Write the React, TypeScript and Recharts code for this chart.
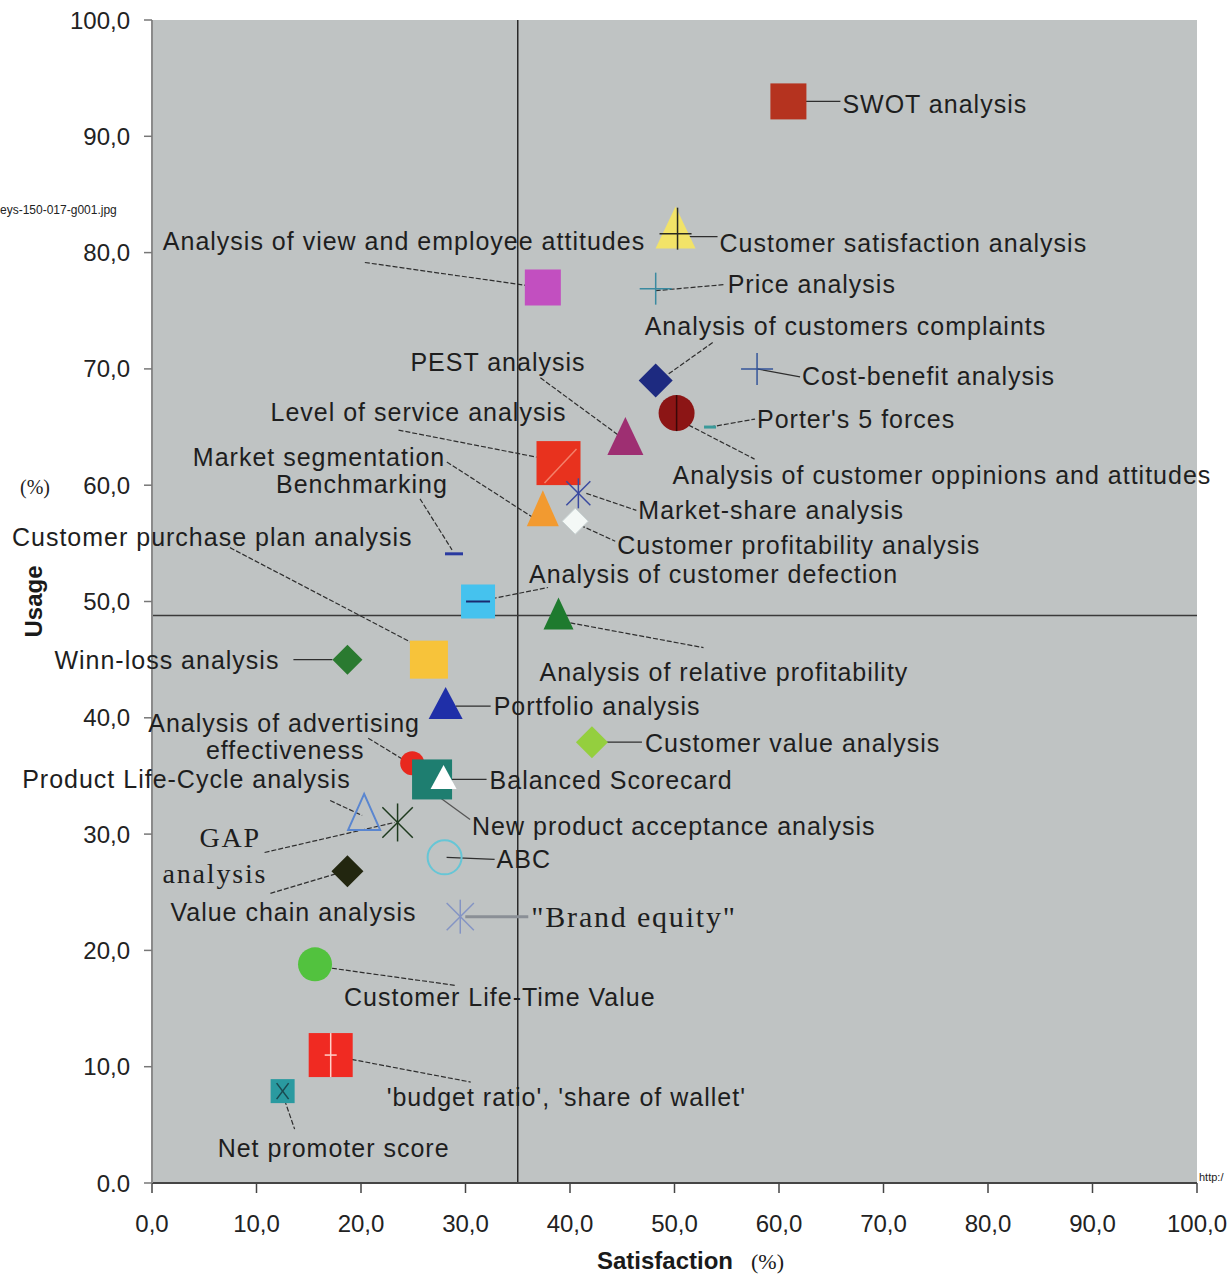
import React from "react";
import {
  ScatterChart,
  Scatter,
  XAxis,
  YAxis,
  CartesianGrid,
  ReferenceLine,
} from "recharts";

// ---- data ----
const TOOLS = [
  "SWOT analysis",
  "Customer satisfaction analysis",
  "Analysis of view and employee attitudes",
  "Price analysis",
  "Analysis of customers complaints",
  "Cost-benefit analysis",
  "Porter's 5 forces",
  "Analysis of customer oppinions and attitudes",
  "PEST analysis",
  "Level of service analysis",
  "Market segmentation",
  "Market-share analysis",
  "Customer profitability analysis",
  "Benchmarking",
  "Analysis of customer defection",
  "Analysis of relative profitability",
  "Winn-loss analysis",
  "Customer purchase plan analysis",
  "Portfolio analysis",
  "Customer value analysis",
  "Analysis of advertising effectiveness",
  "New product acceptance analysis",
  "Balanced Scorecard",
  "Product Life-Cycle analysis",
  "GAP analysis",
  "ABC",
  "Value chain analysis",
  '"Brand equity"',
  "Customer Life-Time Value",
  "'budget ratio', 'share of wallet'",
  "Net promoter score",
];

const SATISFACTION = [
  60.9, 50.1, 37.4, 48.2, 48.2, 57.9, 53.4, 50.2, 45.3, 38.9, 37.4, 40.8, 40.5,
  28.9, 31.2, 38.9, 18.7, 26.5, 28.1, 42.1, 24.9, 26.8, 27.9, 20.3, 23.5, 28.0,
  18.7, 29.5, 15.6, 17.1, 12.5,
];

const USAGE = [
  93.0, 81.8, 77.0, 76.9, 69.0, 70.0, 65.0, 66.2, 63.9, 61.9, 57.7, 59.3, 56.9,
  54.1, 50.0, 48.7, 45.0, 45.0, 41.0, 37.9, 36.1, 34.7, 34.7, 31.6, 31.0, 28.0,
  26.8, 22.9, 18.8, 11.0, 7.9,
];

const AXIS_TICKS = [0, 10, 20, 30, 40, 50, 60, 70, 80, 90, 100];
const SATISFACTION_SPLIT = 35;
const USAGE_SPLIT = 48.8;

const points = TOOLS.map((name, i) => ({
  name,
  x: SATISFACTION[i],
  y: USAGE[i],
}));

// ---- marker styles ----
type Shape =
  | "square"
  | "triangle"
  | "diamond"
  | "circle"
  | "plus"
  | "asterisk"
  | "dash";

type MarkerStyle = {
  shape: Shape;
  size: number;
  h?: number;
  fill?: string;
  stroke?: string;
  extra?: "plus" | "vline" | "wline" | "diag" | "x" | "dash";
};

const MARKERS: Record<string, MarkerStyle> = {
  "SWOT analysis": { shape: "square", size: 36, fill: "#b5331f" },
  "Customer satisfaction analysis": { shape: "triangle", size: 40, h: 42, fill: "#f2e368", extra: "plus" },
  "Analysis of view and employee attitudes": { shape: "square", size: 36, fill: "#c24fc0" },
  "Price analysis": { shape: "plus", size: 32, stroke: "#3a8aa0" },
  "Analysis of customers complaints": { shape: "diamond", size: 34, fill: "#1d2a80" },
  "Cost-benefit analysis": { shape: "plus", size: 32, stroke: "#35559a" },
  "Porter's 5 forces": { shape: "dash", size: 12, stroke: "#3a9a9a" },
  "Analysis of customer oppinions and attitudes": { shape: "circle", size: 36, fill: "#8c1515", extra: "vline" },
  "PEST analysis": { shape: "triangle", size: 36, h: 38, fill: "#9e2f72" },
  "Level of service analysis": { shape: "square", size: 44, fill: "#e8321e", extra: "diag" },
  "Market segmentation": { shape: "triangle", size: 32, h: 36, fill: "#f29a30" },
  "Market-share analysis": { shape: "asterisk", size: 30, stroke: "#3a4aa0" },
  "Customer profitability analysis": { shape: "diamond", size: 26, fill: "#f4f8f6" },
  Benchmarking: { shape: "dash", size: 18, stroke: "#2a3aa0" },
  "Analysis of customer defection": { shape: "square", size: 34, fill: "#45c2ee", extra: "dash" },
  "Analysis of relative profitability": { shape: "triangle", size: 30, h: 32, fill: "#1e7a2e" },
  "Winn-loss analysis": { shape: "diamond", size: 30, fill: "#2a7a30" },
  "Customer purchase plan analysis": { shape: "square", size: 38, fill: "#f7c33a" },
  "Portfolio analysis": { shape: "triangle", size: 34, h: 32, fill: "#1f2fa8" },
  "Customer value analysis": { shape: "diamond", size: 32, fill: "#94cf3e" },
  "Analysis of advertising effectiveness": { shape: "circle", size: 24, fill: "#e8281e" },
  "New product acceptance analysis": { shape: "square", size: 40, fill: "#1e7e70" },
  "Balanced Scorecard": { shape: "triangle", size: 26, h: 24, fill: "#ffffff" },
  "Product Life-Cycle analysis": { shape: "triangle", size: 32, h: 36, stroke: "#5a86d0" },
  "GAP analysis": { shape: "asterisk", size: 38, stroke: "#1e3a1e" },
  ABC: { shape: "circle", size: 34, stroke: "#66c6d6" },
  "Value chain analysis": { shape: "diamond", size: 32, fill: "#22260f" },
  '"Brand equity"': { shape: "asterisk", size: 34, stroke: "#8494c4" },
  "Customer Life-Time Value": { shape: "circle", size: 34, fill: "#52c23e" },
  "'budget ratio', 'share of wallet'": { shape: "square", size: 44, fill: "#f02a22", extra: "wline" },
  "Net promoter score": { shape: "square", size: 24, fill: "#2a9aa0", extra: "x" },
};

// ---- annotation layout, offsets in px from each marker ----
type LabelLine = { text: string; dx: number; dy: number; anchor?: "start" | "middle" | "end"; serif?: boolean };
type Annotation = { lines: LabelLine[]; leader: number[]; dashed?: boolean; color?: string; width?: number };

const LABELS: Record<string, Annotation> = {
  "SWOT analysis": { lines: [{ text: "SWOT analysis", dx: 54, dy: 3 }], leader: [10, 0, 52, 0] },
  "Customer satisfaction analysis": { lines: [{ text: "Customer satisfaction analysis", dx: 44, dy: 11 }], leader: [0, 5, 42, 5] },
  "Analysis of view and employee attitudes": { lines: [{ text: "Analysis of view and employee attitudes", dx: -380, dy: -46 }], leader: [-178, -25, -2, 0], dashed: true },
  "Price analysis": { lines: [{ text: "Price analysis", dx: 72, dy: -5 }], leader: [0, 2, 68, -4], dashed: true },
  "Analysis of customers complaints": { lines: [{ text: "Analysis of customers complaints", dx: -11, dy: -55 }], leader: [57, -38, 12, -6], dashed: true },
  "Cost-benefit analysis": { lines: [{ text: "Cost-benefit analysis", dx: 45, dy: 7 }], leader: [0, 0, 43, 8] },
  "Porter's 5 forces": { lines: [{ text: "Porter's 5 forces", dx: 47, dy: -8 }], leader: [0, 0, 45, -8], dashed: true },
  "Analysis of customer oppinions and attitudes": { lines: [{ text: "Analysis of customer oppinions and attitudes", dx: -4, dy: 62 }], leader: [12, 12, 78, 46], dashed: true },
  "PEST analysis": { lines: [{ text: "PEST analysis", dx: -215, dy: -78 }], leader: [-85, -62, -6, -4], dashed: true },
  "Level of service analysis": { lines: [{ text: "Level of service analysis", dx: -288, dy: -51 }], leader: [-160, -33, -22, -6], dashed: true },
  "Market segmentation": { lines: [{ text: "Market segmentation", dx: -350, dy: -55 }], leader: [-96, -50, -3, 10], dashed: true },
  "Market-share analysis": { lines: [{ text: "Market-share analysis", dx: 60, dy: 17 }], leader: [8, 0, 58, 17], dashed: true },
  "Customer profitability analysis": { lines: [{ text: "Customer profitability analysis", dx: 42, dy: 24 }], leader: [5, 4, 40, 20], dashed: true },
  Benchmarking: { lines: [{ text: "Benchmarking", dx: -178, dy: -70 }], leader: [-34, -55, -2, -4], dashed: true },
  "Analysis of customer defection": { lines: [{ text: "Analysis of customer defection", dx: 51, dy: -28 }], leader: [0, 0, 70, -14], dashed: true },
  "Analysis of relative profitability": { lines: [{ text: "Analysis of relative profitability", dx: -19, dy: 55 }], leader: [5, 5, 145, 31], dashed: true },
  "Winn-loss analysis": { lines: [{ text: "Winn-loss analysis", dx: -293, dy: 0 }], leader: [-54, 0, -15, 0] },
  "Customer purchase plan analysis": { lines: [{ text: "Customer purchase plan analysis", dx: -417, dy: -123 }], leader: [-199, -112, 0, -8], dashed: true },
  "Portfolio analysis": { lines: [{ text: "Portfolio analysis", dx: 48, dy: 0 }], leader: [10, 0, 45, 0] },
  "Customer value analysis": { lines: [{ text: "Customer value analysis", dx: 53, dy: 1 }], leader: [8, 0, 50, 0] },
  "Analysis of advertising effectiveness": {
    lines: [
      { text: "Analysis of advertising", dx: -264, dy: -40 },
      { text: "effectiveness", dx: -127, dy: -13, anchor: "middle" },
    ],
    leader: [-44, -25, -8, -3],
    dashed: true,
  },
  "New product acceptance analysis": { lines: [{ text: "New product acceptance analysis", dx: 40, dy: 47 }], leader: [5, 16, 38, 40], color: "#555" },
  "Balanced Scorecard": { lines: [{ text: "Balanced Scorecard", dx: 46, dy: 1 }], leader: [6, 0, 43, 0] },
  "Product Life-Cycle analysis": { lines: [{ text: "Product Life-Cycle analysis", dx: -342, dy: -36 }], leader: [-34, -15, -2, 0], dashed: true },
  "GAP analysis": {
    lines: [
      { text: "GAP", dx: -198, dy: 15, serif: true },
      { text: "analysis", dx: -235, dy: 51, serif: true },
    ],
    leader: [-133, 30, -3, 0],
    dashed: true,
  },
  ABC: { lines: [{ text: "ABC", dx: 52, dy: 2 }], leader: [2, 0, 50, 2] },
  "Value chain analysis": { lines: [{ text: "Value chain analysis", dx: -177, dy: 41 }], leader: [-77, 22, -3, 0], dashed: true },
  '"Brand equity"': { lines: [{ text: '"Brand equity"', dx: 71, dy: 0, serif: true }], leader: [5, 0, 68, 0], color: "#8a8f96", width: 3 },
  "Customer Life-Time Value": { lines: [{ text: "Customer Life-Time Value", dx: 29, dy: 33 }], leader: [3, 2, 140, 21], dashed: true },
  "'budget ratio', 'share of wallet'": { lines: [{ text: "'budget ratio', 'share of wallet'", dx: 56, dy: 42 }], leader: [14, 3, 140, 27], dashed: true },
  "Net promoter score": { lines: [{ text: "Net promoter score", dx: -65, dy: 57 }], leader: [2, 9, 12, 38], dashed: true },
};

const SANS = "'Liberation Sans', Arial, sans-serif";
const SERIF = "'Liberation Serif', 'Times New Roman', serif";
const TEXT_COLOR = "#1e1e1e";

function fmtTick(v: number, zeroDot = false) {
  if (zeroDot && v === 0) return "0.0";
  return v.toFixed(1).replace(".", ",");
}

function MarkerShape(props: any) {
  const { cx, cy, payload } = props;
  if (cx == null || cy == null) return null;
  const m = MARKERS[payload.name];
  const s = m.size;
  const h = m.h ?? s;
  let body: React.ReactNode = null;
  switch (m.shape) {
    case "square":
      body = <rect x={cx - s / 2} y={cy - s / 2} width={s} height={s} fill={m.fill} />;
      break;
    case "triangle": {
      const pts = `${cx},${cy - h * 0.6} ${cx + s / 2},${cy + h * 0.4} ${cx - s / 2},${cy + h * 0.4}`;
      body = m.fill ? (
        <polygon points={pts} fill={m.fill} />
      ) : (
        <polygon points={pts} fill="none" stroke={m.stroke} strokeWidth={2} />
      );
      break;
    }
    case "diamond":
      body = (
        <polygon
          points={`${cx},${cy - s / 2} ${cx + s / 2},${cy} ${cx},${cy + s / 2} ${cx - s / 2},${cy}`}
          fill={m.fill}
          stroke={m.fill === "#f4f8f6" ? "#c8d2d2" : "none"}
        />
      );
      break;
    case "circle":
      body = m.fill ? (
        <circle cx={cx} cy={cy} r={s / 2} fill={m.fill} />
      ) : (
        <circle cx={cx} cy={cy} r={s / 2} fill="none" stroke={m.stroke} strokeWidth={2} />
      );
      break;
    case "plus":
      body = (
        <g stroke={m.stroke} strokeWidth={1.5}>
          <line x1={cx - s / 2} y1={cy} x2={cx + s / 2} y2={cy} />
          <line x1={cx} y1={cy - s / 2} x2={cx} y2={cy + s / 2} />
        </g>
      );
      break;
    case "asterisk": {
      const r = s / 2;
      const d = r * 0.8;
      body = (
        <g stroke={m.stroke} strokeWidth={1.5}>
          <line x1={cx} y1={cy - r} x2={cx} y2={cy + r} />
          <line x1={cx - d} y1={cy - d} x2={cx + d} y2={cy + d} />
          <line x1={cx + d} y1={cy - d} x2={cx - d} y2={cy + d} />
        </g>
      );
      break;
    }
    case "dash":
      body = <line x1={cx - s / 2} y1={cy} x2={cx + s / 2} y2={cy} stroke={m.stroke} strokeWidth={3} />;
      break;
  }
  let extra: React.ReactNode = null;
  if (m.extra === "plus") {
    extra = (
      <g stroke="#2a2a20" strokeWidth={1.5}>
        <line x1={cx - 16} y1={cy + 2} x2={cx + 16} y2={cy + 2} />
        <line x1={cx + 2} y1={cy - 24} x2={cx + 2} y2={cy + 18} />
      </g>
    );
  } else if (m.extra === "vline") {
    extra = <line x1={cx} y1={cy - s / 2} x2={cx} y2={cy + s / 2} stroke="#3a0808" strokeWidth={1.5} />;
  } else if (m.extra === "wline") {
    extra = (
      <g stroke="#ffd0c8" strokeWidth={1.5}>
        <line x1={cx} y1={cy - s / 2} x2={cx} y2={cy + s / 2} />
        <line x1={cx - 6} y1={cy} x2={cx + 6} y2={cy} />
      </g>
    );
  } else if (m.extra === "diag") {
    extra = <line x1={cx - 14} y1={cy + 20} x2={cx + 18} y2={cy - 14} stroke="#f4806a" strokeWidth={1.5} />;
  } else if (m.extra === "x") {
    extra = (
      <g stroke="#1a4a50" strokeWidth={1.5}>
        <line x1={cx - 6} y1={cy - 8} x2={cx + 6} y2={cy + 8} />
        <line x1={cx + 6} y1={cy - 8} x2={cx - 6} y2={cy + 8} />
      </g>
    );
  } else if (m.extra === "dash") {
    extra = <line x1={cx - 12} y1={cy} x2={cx + 12} y2={cy} stroke="#1a2a70" strokeWidth={2} />;
  }
  return (
    <g>
      {body}
      {extra}
    </g>
  );
}

function AnnotationShape(props: any) {
  const { cx, cy, payload } = props;
  if (cx == null || cy == null) return null;
  const a = LABELS[payload.name];
  if (!a) return null;
  const [x1, y1, x2, y2] = a.leader;
  return (
    <g>
      <line
        x1={cx + x1}
        y1={cy + y1}
        x2={cx + x2}
        y2={cy + y2}
        stroke={a.color ?? "#2e2e2e"}
        strokeWidth={a.width ?? 1.2}
        strokeDasharray={a.dashed ? "5 2" : undefined}
      />
      {a.lines.map((l) => (
        <text
          key={l.text}
          x={cx + l.dx}
          y={cy + l.dy}
          textAnchor={l.anchor ?? "start"}
          dominantBaseline="central"
          fontFamily={l.serif ? SERIF : SANS}
          fontSize={l.serif ? (l.text.startsWith('"') ? 30 : 28) : 25}
          letterSpacing={l.serif ? 1.8 : 1}
          fill={TEXT_COLOR}
        >
          {l.text}
        </text>
      ))}
    </g>
  );
}

export default function App() {
  return (
    <div style={{ position: "relative", width: 1229, height: 1274, overflow: "hidden", fontFamily: SANS }}>
      <style>{"body { margin: 0; }"}</style>
      <ScatterChart width={1229} height={1274} margin={{ top: 20, right: 32, bottom: 0, left: 0 }}>
        <CartesianGrid fill="#bfc3c3" horizontal={false} vertical={false} />
        <XAxis
          type="number"
          dataKey="x"
          domain={[0, 100]}
          ticks={AXIS_TICKS}
          height={91}
          tickSize={10}
          tickMargin={22}
          tickFormatter={(v: number) => fmtTick(v)}
          tick={{ fill: "#222", fontSize: 24, fontFamily: SANS }}
          axisLine={{ stroke: "#454545", strokeWidth: 2 }}
          tickLine={{ stroke: "#454545", strokeWidth: 1.5 }}
        />
        <YAxis
          type="number"
          dataKey="y"
          domain={[0, 100]}
          ticks={AXIS_TICKS}
          width={152}
          tickSize={8}
          tickMargin={14}
          tickFormatter={(v: number) => fmtTick(v, true)}
          tick={{ fill: "#222", fontSize: 24, fontFamily: SANS }}
          axisLine={{ stroke: "#8a8a8a", strokeWidth: 2 }}
          tickLine={{ stroke: "#777", strokeWidth: 1.5 }}
          label={{
            value: "Usage",
            angle: -90,
            position: "insideLeft",
            offset: 33,
            style: { textAnchor: "middle", fontWeight: 700, fontSize: 24, fill: "#1a1a1a", fontFamily: SANS },
          }}
        />
        <Scatter data={points} isAnimationActive={false} shape={(p: any) => <AnnotationShape {...p} />} />
        <Scatter data={points} isAnimationActive={false} shape={(p: any) => <MarkerShape {...p} />} />
        <ReferenceLine x={SATISFACTION_SPLIT} stroke="#2a2a2a" strokeWidth={1.5} />
        <ReferenceLine y={USAGE_SPLIT} stroke="#3a3a3a" strokeWidth={1.5} />
      </ScatterChart>

      <div style={{ position: "absolute", left: 20, top: 476, fontFamily: SERIF, fontSize: 20, color: "#222" }}>
        (%)
      </div>
      <div style={{ position: "absolute", left: 0, top: 203, fontSize: 12, color: "#222", whiteSpace: "nowrap" }}>
        eys-150-017-g001.jpg
      </div>
      <div style={{ position: "absolute", left: 1199, top: 1171, fontSize: 11, color: "#222", whiteSpace: "nowrap" }}>
        http:/
      </div>
      <div style={{ position: "absolute", left: 597, top: 1249, whiteSpace: "nowrap", color: "#1a1a1a", lineHeight: "24px" }}>
        <span style={{ fontWeight: 700, fontSize: 24 }}>Satisfaction</span>
        <span style={{ fontFamily: SERIF, fontSize: 22, marginLeft: 18 }}>(%)</span>
      </div>
    </div>
  );
}
